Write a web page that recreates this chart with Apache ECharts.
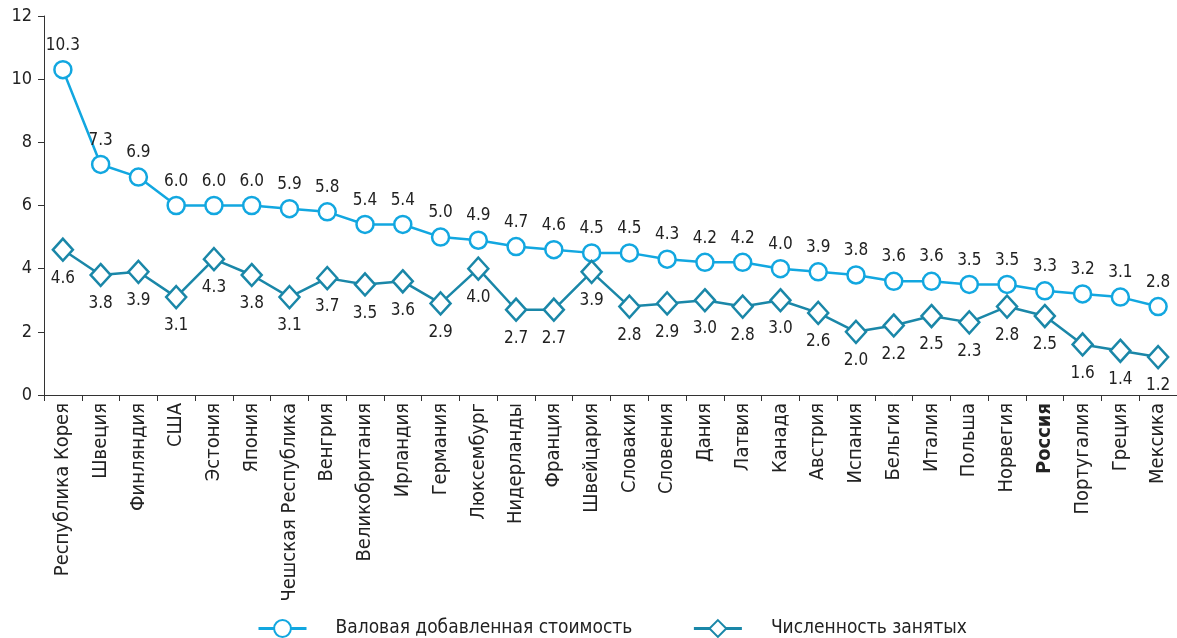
<!DOCTYPE html>
<html><head><meta charset="utf-8">
<script src="https://cdn.jsdelivr.net/npm/echarts@6/dist/echarts.min.js"></script>
<style>html,body{margin:0;padding:0;background:#fff}#c{width:1177px;height:638px}</style>
</head><body><div id="c"></div>
<script>
var categories = ['Республика Корея','Швеция','Финляндия','США','Эстония','Япония','Чешская Республика','Венгрия','Великобритания','Ирландия','Германия','Люксембург','Нидерланды','Франция','Швейцария','Словакия','Словения','Дания','Латвия','Канада','Австрия','Испания','Бельгия','Италия','Польша','Норвегия','Россия','Португалия','Греция','Мексика'];
var gva = [10.3,7.3,6.9,6.0,6.0,6.0,5.9,5.8,5.4,5.4,5.0,4.9,4.7,4.6,4.5,4.5,4.3,4.2,4.2,4.0,3.9,3.8,3.6,3.6,3.5,3.5,3.3,3.2,3.1,2.8];
var employed = [4.6,3.8,3.9,3.1,4.3,3.8,3.1,3.7,3.5,3.6,2.9,4.0,2.7,2.7,3.9,2.8,2.9,3.0,2.8,3.0,2.6,2.0,2.2,2.5,2.3,2.8,2.5,1.6,1.4,1.2];
var yTicks = [0,2,4,6,8,10,12];
var seriesNames = ['Валовая добавленная стоимость','Численность занятых'];

var FONT = '"DejaVu Sans Condensed","Liberation Sans Narrow",sans-serif';
var c1 = '#12a7e0', c2 = '#1a87a8';
var chart = echarts.init(document.getElementById('c'));
chart.setOption({
  animation:false,
  textStyle:{fontFamily:FONT},
  grid:{left:44,right:-3,top:16,bottom:243,containLabel:false},
  legend:{bottom:-5,left:252,itemWidth:48,itemHeight:21,itemGap:60,
    lineStyle:{width:3},
    textStyle:{fontFamily:FONT,fontSize:19,color:'#222',padding:[0,0,0,24]},
    data:seriesNames},
  xAxis:{type:'category',data:categories,boundaryGap:true,
    axisLine:{lineStyle:{color:'#333',width:1}},
    axisTick:{show:true,length:6,lineStyle:{color:'#333'}},
    axisLabel:{rotate:90,interval:0,fontFamily:FONT,fontSize:20,color:'#222',margin:8,
      formatter:function(v){return v==='Россия'?'{b|'+v+'}':v;},
      rich:{b:{fontWeight:'bold',fontFamily:FONT,fontSize:20,color:'#222'}}},
    splitLine:{show:false}},
  yAxis:{type:'value',min:0,max:12,interval:2,
    axisLine:{show:true,lineStyle:{color:'#333'}},
    axisTick:{show:true,length:6,lineStyle:{color:'#333'}},
    axisLabel:{fontFamily:FONT,fontSize:18,color:'#222',margin:12,
      formatter:function(v){return yTicks.indexOf(v)>=0?String(v):'';}},
    splitLine:{show:false}},
  series:[
    {name:seriesNames[0],type:'line',data:gva,symbol:'circle',symbolSize:17,
     itemStyle:{color:'#fff',borderColor:c1,borderWidth:2.5},
     lineStyle:{color:c1,width:2.5},
     label:{show:true,position:'top',distance:6,fontFamily:FONT,fontSize:17,color:'#222',
       formatter:function(p){return p.value.toFixed(1);}}},
    {name:seriesNames[1],type:'line',data:employed,symbol:'diamond',symbolSize:[20,22],
     itemStyle:{color:'#fff',borderColor:c2,borderWidth:2.5},
     lineStyle:{color:c2,width:2.5},
     label:{show:true,position:'bottom',distance:8,fontFamily:FONT,fontSize:17,color:'#222',
       formatter:function(p){return p.value.toFixed(1);}}}
  ]
});
</script></body></html>
